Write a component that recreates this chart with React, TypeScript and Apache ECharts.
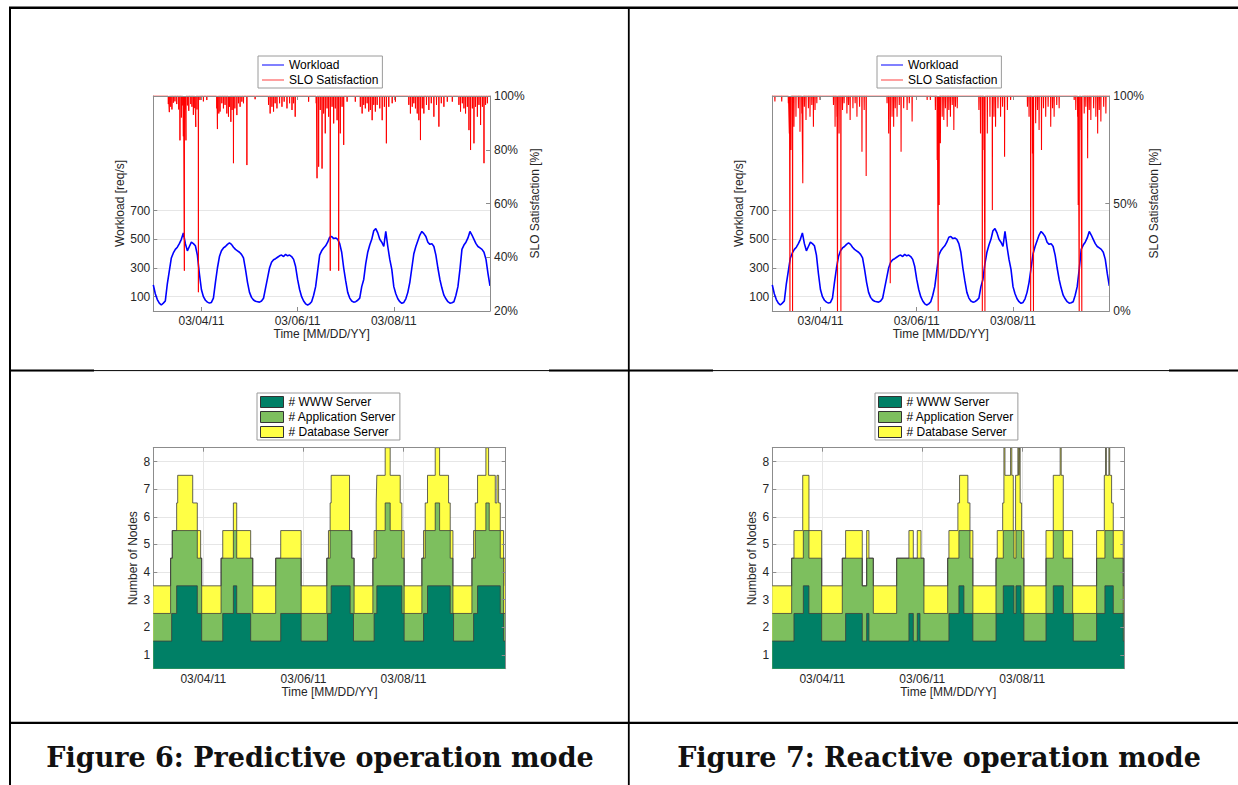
import React, { useEffect, useRef } from 'react';
import * as echarts from 'echarts';

const FONT = '"Liberation Sans", Arial, Helvetica, sans-serif';
const TXT = '#262626';
const AXIS = '#8c8c8c';
const GRIDC = '#e6e6e6';

// ---------- tick values / labels ----------
const xTickHours = [24, 72, 120];
const xTickLabels = ['03/04/11', '03/06/11', '03/08/11'];
const workloadTicks = [100, 300, 500, 700];
const sloTicksPredictive = [20, 40, 60, 80, 100];
const sloTicksReactive = [0, 50, 100];
const nodeTicks = [1, 2, 3, 4, 5, 6, 7, 8];

// ---------- workload [req/s], hourly from 03/03/11 00:00 ----------
const workloadHourly = [
  182, 120, 80, 55, 42, 55, 70, 190, 280, 370, 405, 430, 445, 470, 500, 545, 470, 420, 450, 480, 470, 455, 390, 260,
  150, 100, 75, 62, 55, 60, 90, 200, 300, 380, 420, 440, 450, 465, 475, 465, 445, 430, 420, 410, 395, 370, 290, 200,
  130, 95, 77, 68, 65, 62, 70, 89, 160, 230, 300, 340, 358, 365, 375, 385, 390, 380, 395, 385, 390, 380, 360, 310,
  220, 150, 100, 70, 50, 42, 50, 65, 110, 170, 280, 390, 420, 440, 455, 480, 515, 520, 505, 510, 500, 470, 410, 300,
  210, 130, 90, 70, 62, 65, 75, 90, 170, 220, 330, 410, 460, 500, 560, 575, 545, 500, 480, 450, 555, 450, 360, 290,
  170, 120, 85, 65, 54, 60, 85, 130, 200, 300, 400, 450, 490, 530, 555, 540, 520, 480, 465, 470, 450, 390, 300, 220,
  160, 110, 85, 65, 55, 58, 65, 110, 170, 290, 430, 460, 480, 510, 555, 530, 500, 470, 450, 440, 430, 410, 360, 260,
  175,
];

// ---------- SLO satisfaction dips [hour, %] (100% elsewhere) ----------
const sloDipsPredictive = [
  [7.5, 97], [8, 94], [8.7, 96], [9.3, 95], [10, 97.5], [10.8, 98], [11.7, 97], [12.7, 95], [13.3, 83.5], [14, 92],
  [14.7, 96.5], [15, 85], [15.5, 35], [16, 95], [16.3, 83.5], [17, 96.5], [17.7, 94.5], [18.7, 97], [19.3, 96], [20, 93],
  [20.7, 95.5], [21.2, 88.5], [21.8, 95], [22.5, 27], [23.3, 98.5], [25, 98], [26.7, 98.5],
  [31.7, 95.4], [32, 87.7], [32.7, 93.5], [33.3, 94.2], [34.2, 97.3], [35, 95.4], [35.8, 96.7], [36.7, 93.5], [37.5, 92.3],
  [38, 96], [38.7, 90.4], [39.3, 94.8], [40, 75], [40.7, 95.4], [41.7, 92.9], [42.5, 97.3], [43.3, 96], [44.2, 97.9],
  [45, 97.3], [46.7, 74.3], [50.8, 98.8],
  [57.5, 96.7], [58.3, 93.5], [59.2, 96], [60, 94.2], [60.8, 97.3], [61.7, 95.4], [63, 97.3], [64.2, 96], [65.3, 97.9],
  [66.7, 95.4], [68, 97.3], [69.2, 94.8], [70, 97.3], [70.8, 92.3], [77.5, 97.9],
  [81.3, 97.3], [81.7, 69.4], [82.5, 73.7], [83.3, 94.8], [84.2, 73], [85, 93.5], [85.8, 86.1], [86.7, 95.4], [87.5, 92.3],
  [88.3, 35], [89.2, 96], [90, 89.8], [90.8, 95.4], [91.7, 91], [92.5, 35], [93.3, 86.1], [94.2, 96], [95, 81.8], [96.7, 97.9],
  [100.8, 97.9], [103.3, 96], [104.2, 93.5], [105, 96.7], [105.8, 95.4], [106.7, 97.3], [107.5, 94.2], [108.3, 94.8],
  [109.2, 91], [110, 96.7], [110.8, 94.2], [111.7, 96.7], [113, 95.4], [114.2, 91], [115.3, 96], [116.3, 82.4], [117.5, 96],
  [119.2, 97.3], [120.8, 97.9],
  [127.5, 96.7], [128.3, 93.5], [129.2, 96], [130, 97.3], [130.8, 95.4], [131.7, 93.5], [132.5, 91], [133.3, 83.6],
  [134.2, 95.4], [135, 93.5], [136.3, 96.7], [137.5, 94.8], [138.7, 97.3], [140, 92.3], [141.3, 96.7], [142.5, 88.6],
  [143.7, 97.3], [145, 96], [146.7, 97.9], [149.2, 97.9],
  [152.5, 96.7], [153.3, 94.2], [154.2, 97.3], [155, 95.4], [155.8, 93.5], [156.7, 96], [157.5, 87.3], [158.3, 79.9],
  [159.2, 95.4], [160, 82.4], [160.8, 96], [161.7, 92.3], [162.5, 96.7], [163.3, 89.2], [164.2, 96], [165, 75],
  [165.8, 96.7], [166.7, 97.3],
];

const sloDipsReactive = [
  [1.3, 97.4], [4.7, 97.4],
  [8, 96.6], [8.5, 82.6], [8.8, 0], [9.3, 74.9], [10.1, 0], [10.8, 85.7], [11.8, 90.4], [13, 94.3], [13.8, 83.4],
  [14.7, 91.9], [15.2, 59.4], [16, 95], [16.8, 88.8], [18, 94.3], [18.8, 90.4], [19.7, 95.8], [20.5, 85.7], [21.3, 93.5],
  [22.2, 96.6], [23.8, 98.1],
  [30.5, 95.8], [31.3, 85.7], [32.2, 90.4], [32.5, 0], [33.3, 82.6], [34.2, 0], [35, 93.5], [35.8, 96.6], [37.2, 91.9],
  [38, 95.8], [38.8, 88.8], [40.2, 94.3], [41.3, 96.6], [42.2, 90.4], [43.5, 95], [44.7, 74.1], [45.8, 93.5], [46.8, 62.8],
  [57.2, 96.6], [58, 82.6], [58.8, 12.9], [59.7, 90.4], [60.5, 85.7], [61.3, 94.3], [62.2, 90.4], [63.3, 95.8], [64.2, 74.1],
  [65.5, 94.3], [67.2, 93.5], [68.3, 96.6], [69.7, 88.1], [77.2, 98.1], [78.8, 98.1],
  [81.3, 93.5], [82.2, 70.2], [82.7, 0], [83.2, 49.3], [83.8, 78], [84.7, 90.4], [85.5, 88.8], [86.3, 94.3], [87.2, 85.7],
  [88, 93.5], [88.8, 90.4], [89.7, 95.8], [90.5, 84.2], [91.3, 95], [92.2, 94.3],
  [103, 93.5], [103.8, 82.6], [104.7, 0], [105.5, 74.9], [106, 0], [107.2, 82.6], [108.5, 90.4], [109.7, 47], [110.5, 90.4],
  [111.3, 85.7], [112.5, 94.3], [113.8, 90.4], [114.8, 95], [115.8, 71.8], [117.2, 93.5], [118.8, 98.1],
  [127.2, 95], [128, 90.4], [128.8, 0], [129.7, 73.3], [130.2, 0], [131.3, 87.3], [132.2, 93.5], [133, 84.2], [134.2, 74.9],
  [135.2, 94.3], [136.3, 90.4], [137.5, 95], [138.8, 85.7], [139.7, 94.3], [140.5, 90.4], [141.8, 95.8], [143, 94.3],
  [150.5, 98.1],
  [151.3, 93.5], [152.2, 90.4], [152.5, 49.3], [153, 0], [153.8, 84.2], [154.3, 0], [155.5, 91.9], [156.3, 95], [157.2, 71],
  [158, 93.5], [158.8, 88.8], [160.2, 94.3], [161.3, 90.4], [162.2, 82.6], [163, 93.5], [163.8, 88.1], [165.2, 95], [166.3, 91.9],
];

// ---------- number of nodes: [hour, stacked level] change points ----------
const wwwPredictive = [
  [0, 1.5], [8.8, 2.5], [11.2, 3.5], [21.1, 2.5], [23.2, 1.5], [33.3, 2.5], [38.4, 3.5], [40, 2.5], [46.7, 1.5],
  [61.1, 2.5], [70.9, 1.5], [83.5, 2.5], [85.3, 3.5], [94.4, 2.5], [96, 1.5], [105.9, 2.5], [107.2, 3.5], [119.2, 2.5],
  [120.3, 1.5], [129.6, 2.5], [131.5, 3.5], [142.4, 2.5], [144, 1.5], [153.6, 2.5], [155.5, 3.5], [166.4, 2.5], [168, 1.5],
];
const appPredictive = [
  [0, 2.5], [8.3, 4.5], [9.1, 5.5], [21.1, 4.5], [23.2, 2.5], [32.5, 4.5], [38.4, 5.5], [40, 4.5], [47.7, 2.5],
  [58.7, 4.5], [70.9, 2.5], [83.2, 4.5], [84.8, 5.5], [95.2, 4.5], [96.3, 2.5], [105.3, 4.5], [106.9, 5.5], [111.2, 6.5],
  [113.6, 5.5], [119.2, 4.5], [120.3, 2.5], [128.8, 4.5], [130.4, 5.5], [135.2, 6.5], [137.3, 5.5], [142.4, 4.5],
  [143.7, 2.5], [152.8, 4.5], [154.4, 5.5], [159.5, 6.5], [161.1, 5.5], [166.4, 4.5], [168, 2.5],
];
const dbPredictive = [
  [0, 3.5], [8.3, 4.5], [9.1, 5.5], [11.2, 6.5], [11.7, 7.5], [18.9, 6.5], [21.1, 5.5], [22.7, 4.5], [23.2, 3.5],
  [32.5, 4.5], [33.3, 5.5], [38.4, 6.5], [40, 5.5], [46.7, 4.5], [47.7, 3.5], [58.7, 4.5], [61.1, 5.5], [70.9, 3.5],
  [83.2, 4.5], [84, 5.5], [84.8, 6.5], [85.3, 7.5], [94.1, 5.5], [95.2, 4.5], [96.3, 3.5], [105.3, 4.5], [105.9, 5.5],
  [106.9, 6.5], [107.2, 7.5], [111.2, 8.5], [113.6, 7.5], [118.4, 6.5], [119.2, 5.5], [120.3, 3.5], [128.8, 4.5],
  [129.6, 5.5], [130.4, 6.5], [131.5, 7.5], [135.2, 8.5], [137.3, 7.5], [141.6, 6.5], [142.4, 5.5], [143.7, 3.5],
  [152.8, 4.5], [153.6, 5.5], [154.4, 6.5], [155.5, 7.5], [159.5, 8.5], [160.8, 7.5], [164, 6.5], [164.8, 7.5],
  [165.6, 6.5], [166.4, 5.5], [168, 4.5], [168.8, 3.5],
];
const wwwReactive = [
  [0, 1.5], [10.4, 2.5], [14.9, 3.5], [17.6, 2.5], [23.7, 1.5], [35.2, 2.5], [43.2, 1.5], [45.3, 2.5], [46.4, 1.5],
  [65.6, 2.5], [67.7, 1.5], [69.6, 2.5], [70.9, 1.5], [84.8, 2.5], [89.6, 3.5], [92, 2.5], [96.3, 1.5], [107.4, 2.5],
  [110.9, 3.5], [116, 2.5], [117, 3.5], [119.4, 2.5], [120.8, 1.5], [131.4, 2.5], [134.9, 3.5], [139.7, 2.5],
  [144.5, 1.5], [155.7, 2.5], [159.7, 3.5], [163.7, 2.5], [168.5, 1.5],
];
const appReactive = [
  [0, 2.5], [9.3, 4.5], [14.9, 5.5], [17.6, 4.5], [23.7, 2.5], [33.6, 4.5], [43.2, 3.5], [45.3, 4.5], [48.5, 2.5],
  [59.7, 4.5], [72.8, 2.5], [84.2, 4.5], [89.6, 5.5], [94.9, 4.5], [96.3, 2.5], [107.4, 4.5], [110.9, 5.5], [116, 4.5],
  [117, 5.5], [119.7, 4.5], [120.8, 2.5], [131.4, 4.5], [134.9, 5.5], [139.7, 4.5], [144.2, 2.5], [155.7, 4.5],
  [159.7, 5.5], [163.7, 4.5], [168.5, 2.5],
];
const dbReactive = [
  [0, 3.5], [9.3, 4.5], [10.4, 5.5], [14.6, 7.5], [17.6, 5.5], [23.7, 3.5], [33.6, 4.5], [35.2, 5.5], [43.2, 3.5],
  [45.3, 5.5], [46.4, 4.5], [48.5, 3.5], [59.7, 4.5], [65.6, 5.5], [67.7, 4.5], [69.6, 5.5], [71.4, 4.5], [72.8, 3.5],
  [84.2, 4.5], [84.8, 5.5], [89.1, 6.5], [89.9, 7.5], [93.9, 6.5], [94.9, 5.5], [96.3, 3.5], [107.4, 4.5], [108, 5.5],
  [110.6, 6.5], [111.2, 8.5], [111.7, 7.5], [114.4, 8.5], [115, 7.5], [115.7, 5.5], [116.8, 7.5], [117.9, 8.5],
  [118.4, 7.5], [118.6, 8.5], [119, 6.5], [119.7, 5.5], [120.8, 3.5], [131.4, 5.5], [134.9, 7.5], [138.2, 8.5],
  [138.7, 7.5], [139.7, 5.5], [144.2, 3.5], [155.7, 5.5], [159.4, 7.5], [160, 8.5], [160.4, 7.5], [161.6, 8.5],
  [162, 7.5], [162.9, 6.5], [163.7, 5.5], [168.5, 3.5],
];

const TOP_END = 168;
const BOT_END = 169;

const toWorkload = (arr: number[]) => arr.map((v, i) => [i, v]);
const toDips = (dips: number[][], end: number) => {
  const pts: number[][] = [[0, 100]];
  for (const [t, v] of dips) {
    pts.push([t - 0.08, 100], [t, v], [t + 0.08, 100]);
  }
  pts.push([end, 100]);
  return pts;
};
const toStep = (lv: number[][], end: number) => [...lv.map((p) => [p[0], p[1]]), [end, lv[lv.length - 1][1]]];

const axisLine = { show: true, onZero: false, lineStyle: { color: AXIS, width: 1 } };
const ticks = (vals: number[]) => ({ show: true, inside: true, length: 4, customValues: vals, lineStyle: { color: AXIS } });
const labels = (vals: number[], fmt: (v: number) => string, margin: number) => ({
  show: true, customValues: vals, color: TXT, fontSize: 12, fontFamily: FONT, margin, formatter: fmt,
});
const nameStyle = { color: TXT, fontSize: 12, fontFamily: FONT };
const dateFmt = (v: number) => {
  const i = xTickHours.indexOf(v);
  return i >= 0 ? xTickLabels[i] : '';
};

const timeAxes = (gridIndex: number, max: number, grid: boolean, nameGap: number) => [
  {
    type: 'value', gridIndex, min: 0, max, position: 'bottom',
    axisLine, axisTick: ticks(xTickHours), axisLabel: labels(xTickHours, dateFmt, 4),
    splitLine: { show: grid, lineStyle: { color: GRIDC, width: 1 } },
    name: 'Time [MM/DD/YY]', nameLocation: 'middle', nameGap, nameTextStyle: nameStyle,
  },
  {
    type: 'value', gridIndex, min: 0, max, position: 'top', z: 5,
    axisLine, axisTick: ticks(xTickHours), axisLabel: { show: false }, splitLine: { show: false },
  },
];

const WL_COLOR = '#0000ff';
const SLO_COLOR = '#ff0000';
const nodeFill = { www: '#008066', app: '#7dbf5e', db: '#ffff45' };
const nodeSeries = (name: string, lv: number[][], fill: string, xi: number, yi: number) => ({
  type: 'line', name, xAxisIndex: xi, yAxisIndex: yi, step: 'end', symbol: 'none', showSymbol: false,
  data: toStep(lv, BOT_END), color: fill,
  lineStyle: { color: '#3c3c3c', width: 0.8 },
  areaStyle: { color: fill, opacity: 1, origin: 'start' },
});

const lineLegend = (left: number) => ({
  show: true, orient: 'vertical', left, top: 56, selectedMode: false,
  data: [
    { name: 'Workload', icon: 'rect', itemStyle: { color: WL_COLOR, borderWidth: 0 } },
    { name: 'SLO Satisfaction', icon: 'rect', itemStyle: { color: SLO_COLOR, borderWidth: 0, opacity: 0.75 } },
  ],
  itemWidth: 22, itemHeight: 1, itemGap: 3, padding: [3, 4, 2, 4],
  backgroundColor: '#fff', borderColor: '#9a9a9a', borderWidth: 1, borderRadius: 0,
  textStyle: { color: '#000', fontSize: 12, fontFamily: FONT, lineHeight: 12 },
});
const areaLegend = (left: number) => ({
  show: true, orient: 'vertical', left, top: 393, selectedMode: false,
  data: [
    { name: '# WWW Server', icon: 'rect', itemStyle: { color: nodeFill.www, borderColor: '#333', borderWidth: 1 } },
    { name: '# Application Server', icon: 'rect', itemStyle: { color: nodeFill.app, borderColor: '#333', borderWidth: 1 } },
    { name: '# Database Server', icon: 'rect', itemStyle: { color: nodeFill.db, borderColor: '#333', borderWidth: 1 } },
  ],
  itemWidth: 23, itemHeight: 11, itemGap: 3, padding: [3, 4, 2, 3],
  backgroundColor: '#fff', borderColor: '#9a9a9a', borderWidth: 1, borderRadius: 0,
  textStyle: { color: '#000', fontSize: 12, fontFamily: FONT, lineHeight: 12 },
});

const border = (x1: number, y1: number, x2: number, y2: number, w: number) => ({
  type: 'line', silent: true, z: 100,
  shape: { x1, y1, x2, y2 }, style: { stroke: '#000', lineWidth: w },
});
const caption = (x: number, text: string) => ({
  type: 'text', silent: true, z: 100, x, y: 757,
  style: {
    text, fill: '#111', fontSize: 27, fontWeight: 'bold', fontFamily: '"DejaVu Serif", "Liberation Serif", serif',
    textAlign: 'center', textVerticalAlign: 'middle',
  },
});

export default function App() {
  const ref = useRef<HTMLDivElement>(null);
  useEffect(() => {
    if (!ref.current) return;
    const chart = echarts.init(ref.current, undefined, { renderer: 'svg' });
    const wl = toWorkload(workloadHourly);
    const option: any = {
      animation: false,
      backgroundColor: '#fff',
      grid: [
        { left: 153.3, top: 96, width: 336.7, height: 215 },
        { left: 772.3, top: 96, width: 337, height: 215 },
        { left: 153.3, top: 447.7, width: 352.4, height: 221 },
        { left: 772.3, top: 447.7, width: 352, height: 221 },
      ],
      xAxis: [
        ...timeAxes(0, TOP_END, false, 17),
        ...timeAxes(1, TOP_END, false, 17),
        ...timeAxes(2, BOT_END, true, 16),
        ...timeAxes(3, BOT_END, true, 16),
      ],
      yAxis: [
        {
          type: 'value', gridIndex: 0, min: 0, max: 1500, position: 'left', axisLine,
          axisTick: ticks(workloadTicks), axisLabel: labels(workloadTicks, (v) => String(v), 3),
          splitLine: { show: true, lineStyle: { color: GRIDC } },
          name: 'Workload [req/s]', nameLocation: 'middle', nameGap: 27, nameRotate: 90, nameTextStyle: nameStyle,
        },
        {
          type: 'value', gridIndex: 0, min: 20, max: 100, position: 'right', axisLine, z: 5,
          axisTick: ticks(sloTicksPredictive), axisLabel: labels(sloTicksPredictive, (v) => v + '%', 4),
          splitLine: { show: false },
          name: 'SLO Satisfaction [%]', nameLocation: 'middle', nameGap: 37, nameRotate: 90, nameTextStyle: nameStyle,
        },
        {
          type: 'value', gridIndex: 1, min: 0, max: 1500, position: 'left', axisLine,
          axisTick: ticks(workloadTicks), axisLabel: labels(workloadTicks, (v) => String(v), 3),
          splitLine: { show: true, lineStyle: { color: GRIDC } },
          name: 'Workload [req/s]', nameLocation: 'middle', nameGap: 27, nameRotate: 90, nameTextStyle: nameStyle,
        },
        {
          type: 'value', gridIndex: 1, min: 0, max: 100, position: 'right', axisLine, z: 5,
          axisTick: ticks(sloTicksReactive), axisLabel: labels(sloTicksReactive, (v) => v + '%', 4),
          splitLine: { show: false },
          name: 'SLO Satisfaction [%]', nameLocation: 'middle', nameGap: 37, nameRotate: 90, nameTextStyle: nameStyle,
        },
        {
          type: 'value', gridIndex: 2, min: 0.5, max: 8.5, position: 'left', axisLine,
          axisTick: ticks(nodeTicks), axisLabel: labels(nodeTicks, (v) => String(v), 3),
          splitLine: { show: true, lineStyle: { color: GRIDC } },
          name: 'Number of Nodes', nameLocation: 'middle', nameGap: 14, nameRotate: 90, nameTextStyle: nameStyle,
        },
        {
          type: 'value', gridIndex: 2, min: 0.5, max: 8.5, position: 'right', axisLine, z: 5,
          axisTick: ticks(nodeTicks), axisLabel: { show: false }, splitLine: { show: false },
        },
        {
          type: 'value', gridIndex: 3, min: 0.5, max: 8.5, position: 'left', axisLine,
          axisTick: ticks(nodeTicks), axisLabel: labels(nodeTicks, (v) => String(v), 3),
          splitLine: { show: true, lineStyle: { color: GRIDC } },
          name: 'Number of Nodes', nameLocation: 'middle', nameGap: 14, nameRotate: 90, nameTextStyle: nameStyle,
        },
        {
          type: 'value', gridIndex: 3, min: 0.5, max: 8.5, position: 'right', axisLine, z: 5,
          axisTick: ticks(nodeTicks), axisLabel: { show: false }, splitLine: { show: false },
        },
      ],
      legend: [lineLegend(258), lineLegend(877), areaLegend(257), areaLegend(875)],
      series: [
        { type: 'line', name: 'Workload', xAxisIndex: 0, yAxisIndex: 0, data: wl, symbol: 'none', showSymbol: false,
          color: WL_COLOR, lineStyle: { color: WL_COLOR, width: 1.6 } },
        { type: 'line', name: 'SLO Satisfaction', xAxisIndex: 0, yAxisIndex: 1, data: toDips(sloDipsPredictive, TOP_END),
          symbol: 'none', showSymbol: false, color: SLO_COLOR, lineStyle: { color: SLO_COLOR, width: 1 } },
        { type: 'line', name: 'Workload', xAxisIndex: 2, yAxisIndex: 2, data: wl, symbol: 'none', showSymbol: false,
          color: WL_COLOR, lineStyle: { color: WL_COLOR, width: 1.6 } },
        { type: 'line', name: 'SLO Satisfaction', xAxisIndex: 2, yAxisIndex: 3, data: toDips(sloDipsReactive, TOP_END),
          symbol: 'none', showSymbol: false, color: SLO_COLOR, lineStyle: { color: SLO_COLOR, width: 1.1 } },
        nodeSeries('# Database Server', dbPredictive, nodeFill.db, 4, 4),
        nodeSeries('# Application Server', appPredictive, nodeFill.app, 4, 4),
        nodeSeries('# WWW Server', wwwPredictive, nodeFill.www, 4, 4),
        nodeSeries('# Database Server', dbReactive, nodeFill.db, 6, 6),
        nodeSeries('# Application Server', appReactive, nodeFill.app, 6, 6),
        nodeSeries('# WWW Server', wwwReactive, nodeFill.www, 6, 6),
      ],
      graphic: {
        elements: [
          border(9, 7.8, 1238, 7.8, 2.4),
          border(10, 7, 10, 785, 2),
          border(628.8, 7, 628.8, 785, 1.8),
          border(9, 370.6, 1238, 370.6, 1),
          border(9, 370.6, 94, 370.6, 2),
          border(549, 370.6, 713, 370.6, 2),
          border(1169, 370.6, 1238, 370.6, 2),
          border(9, 722.8, 1238, 722.8, 2.2),
          caption(320, 'Figure 6: Predictive operation mode'),
          caption(939, 'Figure 7: Reactive operation mode'),
        ],
      },
    };
    chart.setOption(option);
    return () => chart.dispose();
  }, []);
  return (
    <div
      ref={ref}
      style={{ position: 'fixed', left: 0, top: 0, width: 1238, height: 785, background: '#fff' }}
    />
  );
}
